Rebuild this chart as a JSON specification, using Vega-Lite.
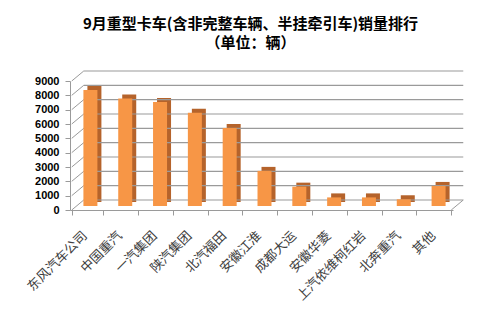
{
  "$schema": "https://vega.github.io/schema/vega-lite/v6.json",
  "autosize": {"type": "none"},
  "width": 383,
  "height": 129,
  "padding": {"left": 70, "top": 81, "right": 47, "bottom": 106},
  "background": "white",
  "config": {
    "view": {"stroke": null},
    "axisY": {
      "labelOverlap": false, "grid": false, "labelFont": "Liberation Sans", "labelFontSize": 11,
      "labelFontWeight": "bold", "labelColor": "#000000", "domainColor": "#9a9a9a",
      "tickColor": "#9a9a9a", "tickSize": 5, "labelPadding": 6, "title": null
    }
  },
  "title": {
    "text": ["9月重型卡车(含非完整车辆、半挂牵引车)销量排行", "（单位：辆）"],
    "font": "Noto Sans CJK SC",
    "fontSize": 15,
    "fontWeight": "bold",
    "color": "#000000",
    "lineHeight": 19,
    "anchor": "middle",
    "frame": "group",
    "dx": -11,
    "offset": 19
  },
  "datasets": {
    "sales": [
      {"company": "东风汽车公司", "sales": 8100},
      {"company": "中国重汽", "sales": 7500},
      {"company": "一汽集团", "sales": 7250},
      {"company": "陕汽集团", "sales": 6500},
      {"company": "北汽福田", "sales": 5450},
      {"company": "安徽江淮", "sales": 2450},
      {"company": "成都大运", "sales": 1350},
      {"company": "安徽华菱", "sales": 600},
      {"company": "上汽依维柯红岩", "sales": 600},
      {"company": "北奔重汽", "sales": 470},
      {"company": "其他", "sales": 1400}
    ],
    "grid": [
      {"v": 0}, {"v": 1000}, {"v": 2000}, {"v": 3000}, {"v": 4000},
      {"v": 5000}, {"v": 6000}, {"v": 7000}, {"v": 8000}, {"v": 9000}
    ]
  },
  "layer": [
    {
      "data": {"name": "sales"},
      "mark": {"type": "bar", "size": 14, "color": "#b5632b", "xOffset": 7, "x2Offset": 7, "yOffset": -8, "y2Offset": -8},
      "encoding": {
        "x": {
          "field": "company", "type": "nominal", "title": null,
          "scale": {"domain": ["东风汽车公司", "中国重汽", "一汽集团", "陕汽集团", "北汽福田", "安徽江淮", "成都大运", "安徽华菱", "上汽依维柯红岩", "北奔重汽", "其他"]},
          "axis": {
            "labelAngle": -45, "labelFont": "Noto Sans CJK SC", "labelFontSize": 13,
            "labelColor": "#404040", "domainColor": "#9a9a9a", "tickColor": "#9a9a9a",
            "tickBand": "extent", "tickSize": 5, "labelPadding": 14, "labelOffset": -7, "labelOverlap": false
          }
        },
        "y": {
          "field": "sales", "type": "quantitative", "title": null,
          "scale": {"domain": [0, 9000], "nice": false},
          "axis": {"values": [0, 1000, 2000, 3000, 4000, 5000, 6000, 7000, 8000, 9000], "format": "d", "labelOverlap": false}
        }
      }
    },
    {
      "data": {"name": "grid"},
      "mark": {"type": "rule", "color": "#9a9a9a", "strokeWidth": 1.2, "xOffset": 12, "x2Offset": 12, "yOffset": -10, "y2Offset": -10},
      "encoding": {
        "x": {"datum": "东风汽车公司", "bandPosition": 0, "type": "nominal"},
        "x2": {"datum": "其他", "bandPosition": 1},
        "y": {"field": "v", "type": "quantitative", "axis": {"values": [0, 1000, 2000, 3000, 4000, 5000, 6000, 7000, 8000, 9000], "format": "d", "labelOverlap": false}},
        "y2": {"field": "v"}
      }
    },
    {
      "data": {"name": "grid"},
      "mark": {"type": "rule", "color": "#9a9a9a", "strokeWidth": 1, "x2Offset": 12, "y2Offset": -10},
      "encoding": {
        "x": {"datum": "东风汽车公司", "bandPosition": 0, "type": "nominal"},
        "x2": {"datum": "东风汽车公司", "bandPosition": 0},
        "y": {"field": "v", "type": "quantitative", "axis": {"values": [0, 1000, 2000, 3000, 4000, 5000, 6000, 7000, 8000, 9000], "format": "d", "labelOverlap": false}},
        "y2": {"field": "v"}
      }
    },
    {
      "data": {"values": [{"v": 0}]},
      "mark": {"type": "rule", "color": "#9a9a9a", "strokeWidth": 1, "x2Offset": 12, "y2Offset": -10},
      "encoding": {
        "x": {"datum": "其他", "bandPosition": 1, "type": "nominal"},
        "x2": {"datum": "其他", "bandPosition": 1},
        "y": {"field": "v", "type": "quantitative", "axis": {"values": [0, 1000, 2000, 3000, 4000, 5000, 6000, 7000, 8000, 9000], "format": "d", "labelOverlap": false}},
        "y2": {"field": "v"}
      }
    },
    {
      "data": {"name": "sales"},
      "mark": {"type": "bar", "size": 14, "color": "#f79646", "xOffset": 3, "x2Offset": 3, "yOffset": -4, "y2Offset": -4},
      "encoding": {
        "x": {"field": "company", "type": "nominal"},
        "y": {"field": "sales", "type": "quantitative", "axis": {"values": [0, 1000, 2000, 3000, 4000, 5000, 6000, 7000, 8000, 9000], "format": "d", "labelOverlap": false}}
      }
    }
  ]
}
